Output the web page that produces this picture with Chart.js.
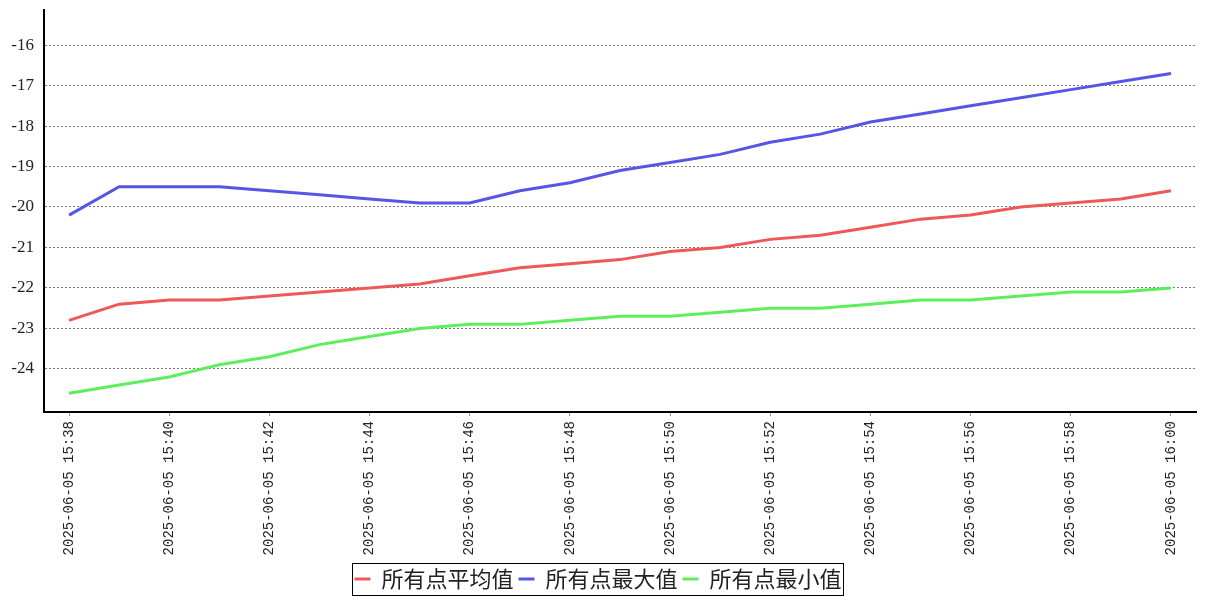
<!DOCTYPE html>
<html>
<head>
<meta charset="utf-8">
<script src="https://cdn.jsdelivr.net/npm/chart.js@4.4.1/dist/chart.umd.min.js"></script>
<style>
  html, body { margin: 0; padding: 0; background: #fff; }
  #wrap { width: 1207px; height: 600px; position: relative; }
</style>
</head>
<body>
<div id="wrap"><canvas id="chart"></canvas></div>
<script>
const times = [
    '2025-06-05 15:38', '2025-06-05 15:39', '2025-06-05 15:40', '2025-06-05 15:41',
    '2025-06-05 15:42', '2025-06-05 15:43', '2025-06-05 15:44', '2025-06-05 15:45',
    '2025-06-05 15:46', '2025-06-05 15:47', '2025-06-05 15:48', '2025-06-05 15:49',
    '2025-06-05 15:50', '2025-06-05 15:51', '2025-06-05 15:52', '2025-06-05 15:53',
    '2025-06-05 15:54', '2025-06-05 15:55', '2025-06-05 15:56', '2025-06-05 15:57',
    '2025-06-05 15:58', '2025-06-05 15:59', '2025-06-05 16:00'
];
const avgValues = [-22.8, -22.4, -22.3, -22.3, -22.2, -22.1, -22.0, -21.9, -21.7, -21.5, -21.4, -21.3,
    -21.1, -21.0, -20.8, -20.7, -20.5, -20.3, -20.2, -20.0, -19.9, -19.8, -19.6];
const maxValues = [-20.2, -19.5, -19.5, -19.5, -19.6, -19.7, -19.8, -19.9, -19.9, -19.6, -19.4, -19.1,
    -18.9, -18.7, -18.4, -18.2, -17.9, -17.7, -17.5, -17.3, -17.1, -16.9, -16.7];
const minValues = [-24.6, -24.4, -24.2, -23.9, -23.7, -23.4, -23.2, -23.0, -22.9, -22.9, -22.8, -22.7,
    -22.7, -22.6, -22.5, -22.5, -22.4, -22.3, -22.3, -22.2, -22.1, -22.1, -22.0];
const yTicks = [-24, -23, -22, -21, -20, -19, -18, -17, -16];
const seriesNames = ['所有点平均值', '所有点最大值', '所有点最小值'];

// frame around the legend items
const legendBox = {
    id: 'legendBox',
    afterDraw(chart) {
        const boxes = chart.legend.legendHitBoxes;
        if (!boxes || !boxes.length) return;
        const left = Math.min(...boxes.map(b => b.left)) - 2;
        const right = Math.max(...boxes.map(b => b.left + b.width)) + 2;
        const top = Math.min(...boxes.map(b => b.top)) - 5;
        const bottom = Math.max(...boxes.map(b => b.top + b.height)) + 5;
        const ctx = chart.ctx;
        ctx.save();
        ctx.strokeStyle = '#000';
        ctx.lineWidth = 1;
        ctx.strokeRect(Math.round(left) + 0.5, Math.round(top) + 0.5, Math.round(right - left), Math.round(bottom - top));
        ctx.restore();
    }
};

const ctx = document.getElementById('chart').getContext('2d');
new Chart(ctx, {
    type: 'line',
    data: {
        labels: times,
        datasets: [
            { label: seriesNames[0], data: avgValues, borderColor: '#ee5858', backgroundColor: '#ee5858', borderWidth: 3 },
            { label: seriesNames[1], data: maxValues, borderColor: '#5656e6', backgroundColor: '#5656e6', borderWidth: 3 },
            { label: seriesNames[2], data: minValues, borderColor: '#5cef5c', backgroundColor: '#5cef5c', borderWidth: 3 }
        ]
    },
    options: {
        responsive: true,
        maintainAspectRatio: false,
        animation: false,
        layout: { padding: { top: 10, right: 11, bottom: 0, left: 0 } },
        elements: {
            line: { borderWidth: 3, tension: 0, fill: false },
            point: { radius: 0, hoverRadius: 0 }
        },
        plugins: {
            tooltip: { enabled: false },
            legend: {
                position: 'bottom',
                labels: {
                    usePointStyle: true,
                    pointStyle: 'line',
                    pointStyleWidth: 16,
                    boxHeight: 3,
                    padding: 5,
                    color: '#222',
                    font: { family: '"Noto Sans CJK SC"', size: 22 }
                }
            }
        },
        scales: {
            x: {
                offset: true,
                grid: {
                    offset: false,
                    drawOnChartArea: false,
                    tickLength: 4,
                    tickColor: (c) => (c.index % 2 === 0 ? '#999' : 'rgba(0,0,0,0)')
                },
                border: { color: '#000', width: 2 },
                ticks: {
                    autoSkip: false,
                    maxRotation: 90,
                    minRotation: 90,
                    padding: 5,
                    color: '#222',
                    font: { family: '"Liberation Mono"', size: 14 },
                    callback: function (v, i) { return i % 2 === 0 ? this.getLabelForValue(v) : ''; }
                },
                afterFit: (s) => { s.height = 151; }
            },
            y: {
                min: -25.065,
                max: -15.133,
                afterBuildTicks: (s) => { s.ticks = yTicks.map(v => ({ value: v })); },
                grid: {
                    drawTicks: false,
                    color: '#777',
                    lineWidth: 1
                },
                border: { color: '#000', width: 2, dash: [2, 2], dashOffset: 0 },
                ticks: {
                    padding: 10,
                    color: '#222',
                    font: { family: '"Liberation Serif"', size: 17 }
                },
                afterFit: (s) => { s.width = 44; s.paddingTop = 0; s.paddingBottom = 0; }
            }
        }
    },
    plugins: [legendBox]
});
</script>
</body>
</html>
